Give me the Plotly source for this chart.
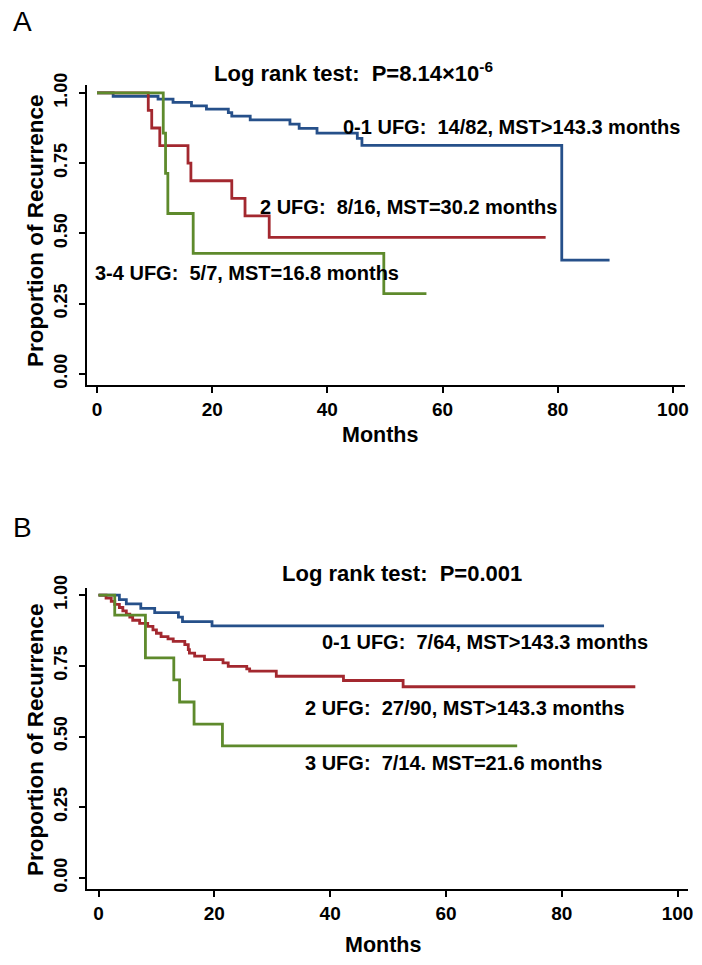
import plotly.graph_objects as go

# ---------------- data ----------------
x_tickvals = [0, 20, 40, 60, 80, 100]
x_ticktext = ["0", "20", "40", "60", "80", "100"]
y_tickvals = [0, 0.25, 0.5, 0.75, 1.0]
y_ticktext = ["0.00", "0.25", "0.50", "0.75", "1.00"]

# Panel A
A_months_01 = [0, 2.8, 10.6, 13.2, 16.4, 19.0, 22.8, 23.4, 26.6, 33.5, 35.1, 38.2, 45.2, 46.0, 80.7, 89.0]
A_surv_01 = [1.0, 0.988, 0.978, 0.966, 0.954, 0.942, 0.930, 0.917, 0.904, 0.889, 0.874, 0.857, 0.838, 0.813, 0.405, 0.405]
A_months_2 = [0, 8.9, 9.5, 10.9, 15.8, 16.3, 23.4, 25.7, 29.9, 77.9]
A_surv_2 = [1.0, 0.9375, 0.875, 0.8125, 0.75, 0.6875, 0.625, 0.5625, 0.486, 0.486]
A_months_34 = [0, 11.5, 11.9, 12.3, 16.7, 49.8, 57.2]
A_surv_34 = [1.0, 0.857, 0.714, 0.571, 0.429, 0.286, 0.286]

# Panel B
B_months_01 = [0, 3.6, 4.8, 7.3, 9.7, 13.8, 14.5, 19.6, 87.3]
B_surv_01 = [1.0, 0.984, 0.969, 0.953, 0.938, 0.922, 0.906, 0.891, 0.891]
B_months_2 = [0, 1.3, 2.2, 2.8, 3.6, 4.2, 4.8, 5.4, 5.9, 7.1, 8.5, 9.4, 10.0, 10.8, 12.0, 12.9,
              14.9, 15.5, 15.7, 16.6, 18.3, 21.5, 22.4, 25.6, 26.1, 30.7, 42.3, 52.6, 92.7]
B_surv_2 = [1.0, 0.989, 0.978, 0.967, 0.956, 0.944, 0.933, 0.922, 0.911, 0.900, 0.889, 0.877, 0.865, 0.853,
            0.845, 0.836, 0.825, 0.807, 0.795, 0.784, 0.772, 0.760, 0.748, 0.739, 0.731, 0.713, 0.698, 0.676, 0.676]
B_months_3 = [0, 2.8, 8.1, 13.0, 14.0, 16.5, 21.4, 72.3]
B_surv_3 = [1.0, 0.929, 0.778, 0.700, 0.622, 0.544, 0.467, 0.467]

A_labels = ["0-1 UFG:\u00a0 14/82, MST>143.3 months",
            "2 UFG:\u00a0 8/16, MST=30.2 months",
            "3-4 UFG:\u00a0 5/7, MST=16.8 months"]
B_labels = ["0-1 UFG:\u00a0 7/64, MST>143.3 months",
            "2 UFG:\u00a0 27/90, MST>143.3 months",
            "3 UFG:\u00a0 7/14. MST=21.6 months"]
A_test = "Log rank test:\u00a0 P=8.14×10<sup>-6</sup>"
B_test = "Log rank test:\u00a0 P=0.001"
x_title = "Months"
y_title = "Proportion of Recurrence"

# ---------------- style ----------------
W, H = 702, 965
BLUE = "#26508A"
RED = "#A3282F"
GREEN = "#5E8A2C"
FONT = "Liberation Sans, Arial, sans-serif"


def px(x):
    return x / W


def py(y):
    return 1 - y / H


fig = go.Figure()


def add_curve(xs, ys, color, xa, ya):
    fig.add_trace(go.Scatter(x=xs, y=ys, mode="lines", line=dict(color=color, width=2.8, shape="hv"),
                             xaxis=xa, yaxis=ya, showlegend=False, hoverinfo="skip"))


add_curve(A_months_01, A_surv_01, BLUE, "x", "y")
add_curve(A_months_2, A_surv_2, RED, "x", "y")
add_curve(A_months_34, A_surv_34, GREEN, "x", "y")
add_curve(B_months_01, B_surv_01, BLUE, "x2", "y2")
add_curve(B_months_2, B_surv_2, RED, "x2", "y2")
add_curve(B_months_3, B_surv_3, GREEN, "x2", "y2")

tickfont = dict(family=FONT, size=19, color="black", weight="bold")
common_x = dict(tickvals=x_tickvals, ticktext=x_ticktext, showline=True, linecolor="black", linewidth=2,
                ticks="outside", ticklen=6, tickwidth=1.5, tickcolor="black", showgrid=False, zeroline=False,
                tickfont=tickfont, fixedrange=True, automargin=False)
common_y = dict(tickvals=y_tickvals, ticktext=y_ticktext, showline=True, linecolor="black", linewidth=2,
                ticks="outside", ticklen=6, tickwidth=1.5, tickcolor="black", showgrid=False, zeroline=False,
                tickfont=dict(family=FONT, size=18, color="black", weight="bold"), tickangle=-90,
                ticklabelstandoff=5, fixedrange=True, automargin=False)

fig.update_layout(
    width=W, height=H,
    margin=dict(l=0, r=0, t=0, b=0, pad=0, autoexpand=False),
    paper_bgcolor="white", plot_bgcolor="white",
    xaxis=dict(domain=[px(87), px(685)], range=[-1.74, 102.1], anchor="y", **common_x),
    yaxis=dict(domain=[py(385), py(85)], range=[-0.039, 1.028], anchor="x", **common_y),
    xaxis2=dict(domain=[px(87), px(688)], range=[-1.99, 101.8], anchor="y2", **common_x),
    yaxis2=dict(domain=[py(889), py(588)], range=[-0.039, 1.025], anchor="x2", **common_y),
)

ann = []


def text(x, y, s, size=20, bold=True, xanchor="left", angle=0):
    ann.append(dict(x=px(x), y=py(y), xref="paper", yref="paper", text=s, showarrow=False,
                    xanchor=xanchor, yanchor="middle", textangle=angle,
                    font=dict(family=FONT, size=size, color="black", weight="bold" if bold else "normal")))


# panel letters
text(22, 22, "A", size=28, bold=False, xanchor="center")
text(22, 527, "B", size=28, bold=False, xanchor="center")

# log rank tests
text(212, 72, A_test, size=22)
text(280, 573, B_test, size=22)

# group labels
text(341, 127, A_labels[0])
text(258, 207, A_labels[1])
text(93, 273, A_labels[2])
text(320, 642, B_labels[0])
text(303, 708, B_labels[1])
text(303, 763, B_labels[2])

# axis titles
text(380, 435, x_title, size=21.5, xanchor="center")
text(383, 945, x_title, size=21.5, xanchor="center")
text(35, 231, y_title, size=22.5, xanchor="center", angle=-90)
text(35, 740, y_title, size=22.5, xanchor="center", angle=-90)

fig.update_layout(annotations=ann)

fig.write_html("out.html", config={"displayModeBar": False},
               post_script="document.body.style.margin='0';document.body.style.overflow='hidden';")
